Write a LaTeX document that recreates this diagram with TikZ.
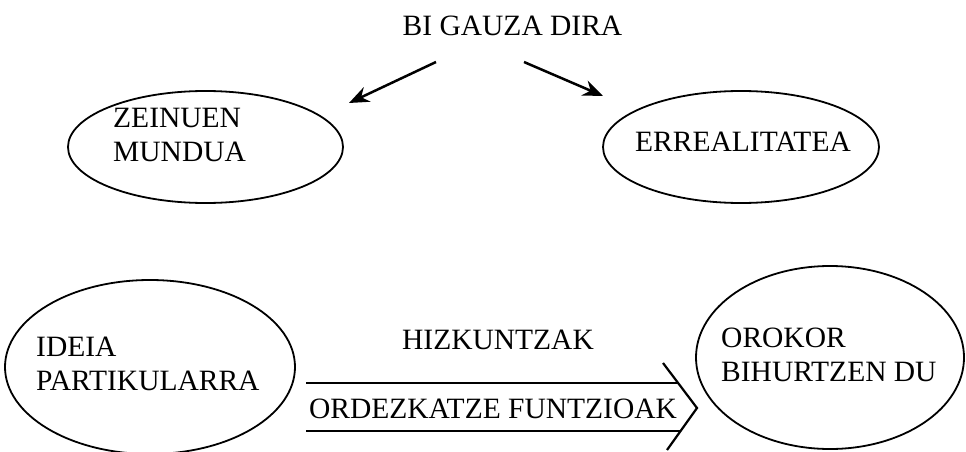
\documentclass[tikz,border=0pt]{standalone}
\usepackage{fontspec}
\setmainfont{Liberation Serif}
\usetikzlibrary{shapes.geometric,arrows.meta}
\begin{document}
\begin{tikzpicture}[x=1pt,y=-1pt,
  lbl/.style={font=\fontsize{29.5}{34}\selectfont, inner sep=0pt, align=left},
  oval/.style={draw, ellipse, line width=1.8pt, inner sep=0pt},
  pointer/.style={line width=2.5pt, -{Stealth[length=20pt,width=16pt]}},
  rail/.style={line width=2.2pt}]
\useasboundingbox (0,0) rectangle (966,452);
% ovals
\node[oval, minimum width=275pt, minimum height=112pt] (zo) at (205.5,147) {};
\node[oval, minimum width=276pt, minimum height=112pt] (eo) at (741,147) {};
\node[oval, minimum width=290pt, minimum height=174pt] (io) at (150,367) {};
\node[oval, minimum width=268pt, minimum height=183pt] (oo) at (830,357.5) {};
% texts
\node[lbl] (title) at (512.5,26) {BI GAUZA DIRA};
\node[lbl, anchor=west] (zt) at (113,135) {ZEINUEN\\MUNDUA};
\node[lbl] (et) at (743,142) {ERREALITATEA};
\node[lbl, anchor=west] (it) at (36,363.5) {IDEIA\\PARTIKULARRA};
\node[lbl, anchor=west] (ot) at (721,355) {OROKOR\\BIHURTZEN DU};
\node[lbl] (ht) at (498,339.5) {HIZKUNTZAK};
\node[lbl] (ft) at (493,409) {ORDEZKATZE FUNTZIOAK};
% top arrows
\coordinate (a1s) at (436,62);
\coordinate (a1e) at (349,103);
\coordinate (a2s) at (524,62);
\coordinate (a2e) at (603,96);
\draw[pointer] (a1s) -- (a1e);
\draw[pointer] (a2s) -- (a2e);
% double arrow
\coordinate (r1s) at (306,383);
\coordinate (r1e) at (678,383);
\coordinate (r2s) at (306,431);
\coordinate (r2e) at (680,431);
\coordinate (c1) at (663,363);
\coordinate (c2) at (697,408);
\coordinate (c3) at (667,450);
\draw[rail] (r1s) -- (r1e);
\draw[rail] (r2s) -- (r2e);
\draw[rail] (c1) -- (c2) -- (c3);
\end{tikzpicture}
\end{document}
